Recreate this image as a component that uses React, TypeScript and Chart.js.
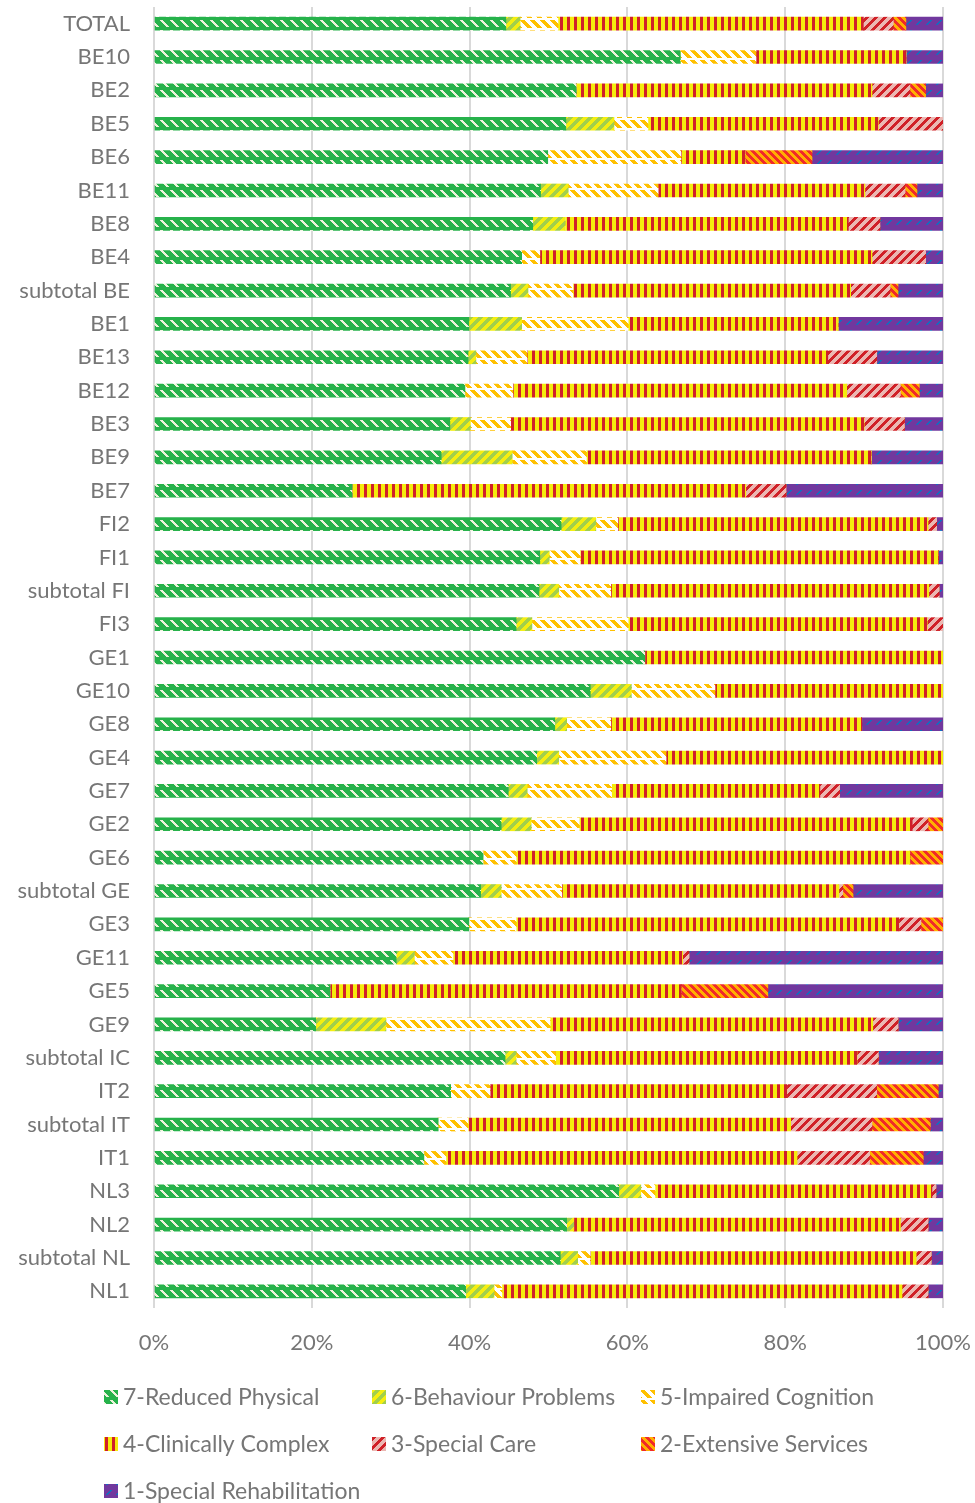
import React, { useEffect, useRef } from "react";
import { Chart, registerables } from "chart.js";

Chart.register(...registerables);

const categories = [
  "TOTAL", "BE10", "BE2", "BE5", "BE6", "BE11", "BE8", "BE4", "subtotal BE", "BE1",
  "BE13", "BE12", "BE3", "BE9", "BE7", "FI2", "FI1", "subtotal FI", "FI3", "GE1",
  "GE10", "GE8", "GE4", "GE7", "GE2", "GE6", "subtotal GE", "GE3", "GE11", "GE5",
  "GE9", "subtotal IC", "IT2", "subtotal IT", "IT1", "NL3", "NL2", "subtotal NL", "NL1",
];

const reducedPhysical = [44.6, 66.7, 53.5, 52.2, 49.9, 49.0, 48.0, 46.6, 45.2, 39.9, 39.8, 39.4, 37.5, 36.4, 25.1, 51.6, 48.9, 48.8, 45.9, 62.2, 55.3, 50.8, 48.5, 44.9, 44.0, 41.7, 41.4, 39.9, 30.7, 22.3, 20.5, 44.5, 37.6, 36.0, 34.2, 58.9, 52.3, 51.5, 39.5];
const behaviourProblems = [1.8, 0, 0, 6.1, 0, 3.5, 4.1, 0, 2.2, 6.7, 1.0, 0, 2.6, 9.0, 0, 4.4, 1.2, 2.5, 2.0, 0, 5.2, 1.5, 2.8, 2.4, 3.8, 0, 2.6, 0, 2.3, 0, 8.9, 1.4, 0, 0, 0, 2.8, 0.9, 2.2, 3.6];
const impairedCognition = [4.8, 9.6, 0, 4.3, 16.9, 11.4, 0, 2.3, 5.7, 13.5, 6.5, 6.1, 5.1, 9.4, 0, 2.8, 3.9, 6.6, 12.2, 0, 10.6, 5.6, 13.6, 10.7, 6.1, 4.2, 7.7, 6.0, 4.9, 0, 20.8, 5.0, 5.0, 3.8, 2.8, 1.8, 0, 1.6, 1.0];
const clinicallyComplex = [38.7, 19.0, 37.5, 29.2, 8.1, 26.2, 35.9, 42.1, 35.2, 26.6, 38.1, 42.3, 44.8, 36.1, 49.9, 39.3, 45.4, 40.3, 37.9, 37.8, 28.9, 31.8, 35.1, 26.4, 42.2, 49.9, 35.1, 48.5, 29.1, 44.5, 40.9, 38.2, 37.6, 40.9, 44.5, 35.1, 41.4, 41.3, 50.7];
const specialCare = [3.8, 0, 4.8, 8.2, 0, 5.1, 4.0, 6.8, 5.0, 0, 6.2, 6.8, 5.1, 0, 5.1, 1.1, 0, 1.3, 2.0, 0, 0, 0, 0, 2.5, 2.0, 0, 0.5, 2.8, 0.8, 0, 3.2, 2.7, 11.4, 10.3, 9.2, 0.5, 3.5, 1.9, 3.3];
const extensiveServices = [1.6, 0, 2.0, 0, 8.5, 1.5, 0, 0, 1.0, 0, 0, 2.4, 0, 0, 0, 0, 0, 0, 0, 0, 0, 0, 0, 0, 1.9, 4.2, 1.3, 2.8, 0, 11.0, 0, 0, 7.8, 7.4, 6.8, 0, 0, 0, 0];
const specialRehabilitation = [4.7, 4.7, 2.2, 0, 16.6, 3.3, 8.0, 2.2, 5.7, 13.3, 8.4, 3.0, 4.9, 9.1, 19.9, 0.8, 0.6, 0.5, 0, 0, 0, 10.3, 0, 13.1, 0, 0, 11.4, 0, 32.2, 22.2, 5.7, 8.2, 0.6, 1.6, 2.5, 0.9, 1.9, 1.5, 1.9];

const seriesLabels = [
  "7-Reduced Physical", "6-Behaviour Problems", "5-Impaired Cognition",
  "4-Clinically Complex", "3-Special Care", "2-Extensive Services", "1-Special Rehabilitation",
];
const xTicks = [0, 20, 40, 60, 80, 100];

const TEXT = "#767676";
const FONT = "Lato, 'Noto Sans', sans-serif";

function tile(size: number, bg: string, fg: string, cells: (x: number, y: number) => boolean) {
  const c = document.createElement("canvas");
  c.width = size;
  c.height = size;
  const g = c.getContext("2d")!;
  g.fillStyle = bg;
  g.fillRect(0, 0, size, size);
  g.fillStyle = fg;
  for (let y = 0; y < size; y++)
    for (let x = 0; x < size; x++) if (cells(x, y)) g.fillRect(x, y, 1, 1);
  return g.createPattern(c, "repeat") as CanvasPattern;
}

const mod = (a: number, n: number) => ((a % n) + n) % n;

function makePatterns() {
  return [
    // 7 green with light downward dashes
    tile(10, "#27b24b", "#eef2dc", (x, y) => mod(x - y, 10) < 3 && mod(y, 10) < 7),
    // 6 green / yellow upward diagonal
    tile(10, "#a2cf4c", "#f5ee10", (x, y) => mod(x + y, 10) < 5),
    // 5 white with orange downward dashes
    tile(10, "#ffffff", "#ffc000", (x, y) => mod(x - y, 10) < 5 && mod(y, 10) < 8),
    // 4 vertical red/yellow stripes
    tile(7, "#f5ec0c", "#d0202a", (x) => x < 3),
    // 3 pink with red upward stripes
    tile(9, "#ebb7b2", "#d02027", (x, y) => mod(x + y, 9) < 4),
    // 2 orange/red downward stripes
    tile(8, "#ffb000", "#f02a2a", (x, y) => mod(x - y, 8) < 4),
    // 1 purple with blue dashes
    tile(10, "#71389e", "#1070c0", (x, y) => mod(x + y, 10) < 2 && mod(y, 10) < 5),
  ];
}

export default function App() {
  const ref = useRef<HTMLCanvasElement | null>(null);

  useEffect(() => {
    document.body.style.margin = "0";
    const canvas = ref.current!;
    const patterns = makePatterns();
    const series = [
      reducedPhysical, behaviourProblems, impairedCognition, clinicallyComplex,
      specialCare, extensiveServices, specialRehabilitation,
    ];

    const legendPlugin = {
      id: "gridLegend",
      afterDraw(chart: any) {
        const ctx = chart.ctx;
        const cols = [104, 372, 641];
        const rows = [1397, 1444, 1491];
        ctx.save();
        ctx.font = `23px ${FONT}`;
        ctx.textBaseline = "middle";
        ctx.textAlign = "left";
        seriesLabels.forEach((lab, i) => {
          const x = cols[i % 3];
          const y = rows[Math.floor(i / 3)];
          ctx.fillStyle = patterns[i];
          ctx.fillRect(x, y - 7, 14, 14);
          ctx.fillStyle = TEXT;
          ctx.fillText(lab, x + 19, y + 1);
        });
        ctx.restore();
      },
    };

    const chart = new Chart(canvas, {
      type: "bar",
      data: {
        labels: categories,
        datasets: series.map((d, i) => ({
          label: seriesLabels[i],
          data: d,
          backgroundColor: patterns[i],
          borderWidth: 0,
          barThickness: 13,
        })),
      },
      options: {
        indexAxis: "y",
        animation: false,
        responsive: false,
        devicePixelRatio: 1,
        layout: { padding: { left: 0, right: 32, top: 7, bottom: 150 } },
        plugins: { legend: { display: false }, tooltip: { enabled: false } },
        scales: {
          x: {
            stacked: true,
            min: 0,
            max: 100,
            afterFit: (s: any) => {
              s.height = 45;
              s.paddingLeft = 0;
              s.paddingRight = 0;
              s.paddingTop = 0;
              s.paddingBottom = 0;
            },
            afterBuildTicks: (s: any) => { s.ticks = xTicks.map((v) => ({ value: v })); },
            grid: { color: "#d9d9d9", lineWidth: 2, drawTicks: false },
            border: { display: false },
            ticks: {
              padding: 22,
              color: TEXT,
              font: { family: FONT, size: 22 },
              callback: (v: any) => `${v}%`,
            },
          },
          y: {
            stacked: true,
            afterFit: (s: any) => {
              s.width = 154;
              s.paddingLeft = 0;
              s.paddingRight = 0;
              s.paddingTop = 0;
              s.paddingBottom = 0;
            },
            grid: { display: false, drawTicks: false },
            border: { display: false },
            ticks: {
              padding: 24,
              color: TEXT,
              font: { family: FONT, size: 22 },
              autoSkip: false,
            },
          },
        },
      },
      plugins: [legendPlugin],
    } as any);

    return () => chart.destroy();
  }, []);

  return (
    <div style={{ width: 975, height: 1503 }}>
      <canvas ref={ref} width={975} height={1503} style={{ display: "block", width: 975, height: 1503 }} />
    </div>
  );
}
